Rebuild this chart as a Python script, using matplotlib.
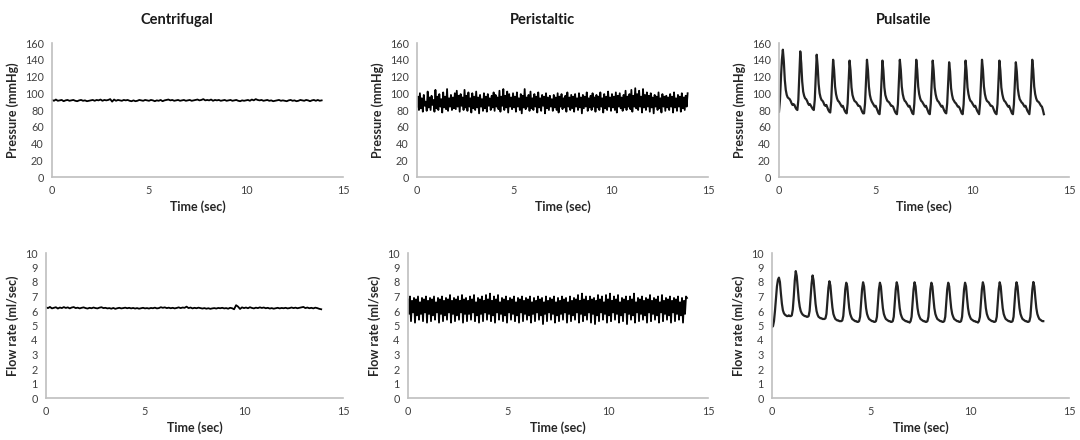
import numpy as np
import matplotlib
matplotlib.use('Agg')
import matplotlib.pyplot as plt

plt.rcParams['font.family'] = ['Lato', 'DejaVu Sans']

# ---------------- data ----------------
pump_names = ['Centrifugal', 'Peristaltic', 'Pulsatile']

# centrifugal pressure, mmHg, every 0.1 s
centrifugal_pressure = [
    92, 91, 92.5, 91, 91.5, 92, 90.5, 91.5, 92, 91,
    91.5, 92, 91, 90.5, 91.5, 92, 91, 91.5, 90.5, 91,
    91.5, 92, 91, 92, 91.5, 92.5, 91, 92, 91.5, 92,
    93, 90, 92.5, 91, 92, 91.5, 91, 92, 91.5, 92,
    91, 90.5, 91.5, 90.5, 91, 92, 91.5, 91, 92, 91.5,
    91, 92, 91.5, 90.5, 91.5, 91, 92, 90.5, 91.5, 92,
    92.5, 91.5, 92, 91, 91.5, 92, 91, 91.5, 92, 91,
    91.5, 92, 91, 91.5, 92, 92.5, 91.5, 92, 93, 91.5,
    92, 91.5, 92.5, 91, 92, 91.5, 92, 91, 91.5, 92,
    91, 91.5, 92, 91, 91.5, 92, 91, 90.5, 91.5, 91,
    91.5, 92, 91, 92.5, 91.5, 93, 92, 91.5, 92, 91,
    91.5, 92, 91, 91.5, 90.5, 91, 91.5, 92, 91, 91.5,
    91, 90.5, 91.5, 92, 91, 91.5, 90.5, 91, 92, 91.5,
    91, 92, 91.5, 90.5, 91.5, 92, 91, 92, 91, 91.5,
]

# centrifugal flow, ml/sec, every 0.1 s
centrifugal_flow = [
    6.25, 6.2, 6.28, 6.18, 6.22, 6.26, 6.17, 6.24, 6.2, 6.27,
    6.21, 6.25, 6.18, 6.24, 6.27, 6.2, 6.23, 6.18, 6.22, 6.25,
    6.2, 6.17, 6.22, 6.19, 6.24, 6.2, 6.18, 6.23, 6.26, 6.2,
    6.22, 6.18, 6.2, 6.16, 6.21, 6.15, 6.19, 6.22, 6.18, 6.2,
    6.23, 6.19, 6.22, 6.18, 6.21, 6.17, 6.2, 6.16, 6.19, 6.22,
    6.18, 6.2, 6.17, 6.21, 6.19, 6.23, 6.18, 6.2, 6.26, 6.22,
    6.25, 6.2, 6.23, 6.19, 6.22, 6.18, 6.21, 6.25, 6.2, 6.24,
    6.22, 6.3, 6.2, 6.24, 6.18, 6.22, 6.19, 6.23, 6.2, 6.17,
    6.2, 6.16, 6.19, 6.15, 6.18, 6.2, 6.17, 6.21, 6.19, 6.22,
    6.18, 6.2, 6.16, 6.22, 6.19, 6.12, 6.4, 6.3, 6.14, 6.25,
    6.2, 6.24, 6.19, 6.26, 6.21, 6.18, 6.23, 6.2, 6.25, 6.21,
    6.24, 6.19, 6.22, 6.17, 6.2, 6.16, 6.19, 6.22, 6.18, 6.21,
    6.19, 6.22, 6.18, 6.2, 6.24, 6.2, 6.23, 6.19, 6.22, 6.25,
    6.28, 6.2, 6.24, 6.19, 6.22, 6.18, 6.23, 6.2, 6.15, 6.12,
]

# peristaltic pressure, mmHg, every 0.05 s
peristaltic_pressure = [
    84, 96, 80, 100, 82, 94, 78, 98, 85, 90, 79, 102, 83, 95, 80, 97, 86, 92, 78, 104,
    82, 96, 80, 99, 84, 93, 77, 101, 83, 96, 81, 105, 79, 94, 84, 98, 80, 95, 82, 100,
    81, 103, 84, 97, 78, 99, 85, 95, 80, 104, 83, 97, 79, 101, 84, 94, 77, 100, 82, 96,
    80, 102, 83, 95, 76, 98, 84, 93, 79, 100, 82, 96, 78, 99, 85, 94, 80, 97, 83, 101,
    79, 98, 84, 95, 81, 103, 78, 96, 85, 105, 80, 97, 83, 102, 77, 99, 84, 95, 81, 100,
    83, 96, 78, 101, 84, 94, 80, 99, 76, 97, 83, 105, 81, 95, 84, 98, 79, 102, 82, 94,
    80, 99, 84, 96, 77, 101, 83, 94, 79, 98, 85, 96, 76, 100, 82, 95, 80, 97, 84, 93,
    79, 98, 83, 95, 80, 100, 77, 96, 84, 99, 81, 94, 83, 97, 78, 101, 84, 95, 80, 98,
    82, 96, 78, 99, 84, 94, 80, 100, 83, 95, 76, 98, 82, 96, 84, 101, 79, 94, 83, 97,
    80, 100, 84, 95, 78, 98, 83, 96, 80, 101, 84, 94, 77, 99, 82, 96, 80, 102, 84, 95,
    79, 99, 83, 96, 80, 101, 77, 97, 84, 100, 82, 95, 79, 98, 83, 103, 80, 96, 84, 99,
    81, 104, 78, 97, 84, 106, 82, 99, 80, 103, 84, 96, 77, 105, 83, 98, 80, 101, 84, 97,
    78, 100, 83, 95, 76, 98, 84, 96, 80, 101, 82, 94, 77, 99, 84, 96, 79, 97, 83, 95,
    80, 99, 84, 96, 77, 101, 83, 94, 79, 98, 84, 96, 78, 100, 82, 95, 80, 97, 84, 100,
]

# peristaltic flow, ml/sec, every 0.05 s
peristaltic_flow = [
    6.8, 5.8, 7.0, 5.3, 6.7, 5.9, 6.9, 5.2, 6.8, 5.7, 7.0, 5.4, 6.6, 5.8, 6.9, 5.3, 6.8, 5.9, 7.0, 5.2,
    6.7, 5.8, 6.9, 5.3, 6.8, 5.7, 7.0, 5.4, 6.6, 5.9, 6.9, 5.2, 6.8, 5.8, 7.0, 5.3, 6.7, 5.7, 6.9, 5.4,
    6.8, 5.9, 7.1, 5.2, 6.7, 5.8, 6.9, 5.3, 6.8, 5.7, 7.0, 5.4, 6.7, 5.9, 7.1, 5.2, 6.8, 5.8, 6.9, 5.3,
    6.7, 5.8, 7.0, 5.4, 6.8, 5.9, 7.1, 5.3, 6.6, 5.7, 6.9, 5.2, 6.8, 5.8, 7.0, 5.3, 6.7, 5.9, 7.1, 5.4,
    6.8, 5.8, 7.2, 5.3, 6.7, 5.7, 7.0, 5.2, 6.8, 5.9, 7.1, 5.4, 6.6, 5.8, 6.9, 5.3, 6.8, 5.7, 7.0, 5.2,
    6.7, 5.9, 6.9, 5.4, 6.8, 5.8, 7.0, 5.3, 6.6, 5.7, 6.9, 5.2, 6.8, 5.9, 7.0, 5.3, 6.7, 5.8, 6.9, 5.4,
    6.8, 5.7, 7.0, 5.2, 6.6, 5.8, 6.9, 5.3, 6.7, 5.9, 7.0, 5.4, 6.8, 5.7, 6.9, 5.1, 6.6, 5.8, 7.0, 5.3,
    6.7, 5.9, 6.9, 5.4, 6.8, 5.8, 7.0, 5.2, 6.6, 5.7, 6.9, 5.3, 6.7, 5.8, 7.0, 5.4, 6.8, 5.9, 6.9, 5.2,
    6.6, 5.8, 7.0, 5.3, 6.7, 5.7, 6.9, 5.4, 6.8, 5.9, 7.1, 5.2, 6.7, 5.8, 7.2, 5.3, 6.8, 5.7, 7.0, 5.4,
    6.7, 5.9, 7.0, 5.2, 6.8, 5.8, 6.9, 5.1, 6.7, 5.7, 7.1, 5.3, 6.8, 5.9, 7.0, 5.4, 6.6, 5.8, 7.1, 5.2,
    6.8, 5.7, 7.2, 5.3, 6.7, 5.9, 7.0, 5.4, 6.8, 5.8, 7.1, 5.2, 6.6, 5.7, 6.9, 5.3, 6.8, 5.9, 7.0, 5.1,
    6.7, 5.8, 7.0, 5.4, 6.8, 5.7, 7.2, 5.2, 6.6, 5.9, 6.9, 5.3, 6.8, 5.8, 7.0, 5.4, 6.7, 5.7, 6.9, 5.2,
    6.8, 5.9, 7.1, 5.3, 6.7, 5.8, 6.9, 5.4, 6.8, 5.7, 7.0, 5.2, 6.6, 5.9, 7.1, 5.3, 6.7, 5.8, 6.9, 5.4,
    6.8, 5.7, 7.0, 5.2, 6.7, 5.9, 6.9, 5.3, 6.8, 5.8, 7.0, 5.4, 6.6, 5.7, 6.9, 5.2, 6.7, 5.8, 7.0, 6.9,
]

# pulsatile pressure, mmHg, every 0.05 s (one row per beat, starting at its peak)
pulsatile_pressure = [
    78, 92, 118, 140,
    152, 138, 116, 104, 98, 95, 94, 93, 91, 88, 86, 87, 86, 83, 81, 80, 92, 122,
    150, 136, 114, 102, 97, 94, 93, 91, 88, 86, 87, 85, 83, 81, 80, 92, 120,
    146, 132, 111, 100, 95, 92, 91, 89, 86, 85, 86, 83, 80, 78, 77, 90, 117,
    140, 128, 108, 99, 94, 91, 90, 88, 86, 84, 85, 82, 79, 77, 76, 88, 114,
    139, 127, 107, 98, 94, 91, 90, 89, 87, 85, 85, 84, 81, 78, 76, 76, 88, 114,
    140, 128, 108, 98, 93, 90, 88, 86, 84, 85, 82, 79, 76, 75, 88, 115,
    139, 127, 107, 98, 94, 91, 90, 89, 87, 85, 85, 84, 81, 78, 76, 75, 87, 114,
    140, 128, 108, 99, 94, 91, 90, 88, 86, 84, 85, 82, 79, 76, 75, 88, 115,
    140, 128, 108, 99, 94, 91, 90, 88, 86, 84, 85, 82, 79, 76, 75, 88, 114,
    139, 127, 107, 99, 94, 91, 90, 88, 86, 84, 85, 82, 79, 77, 76, 88, 113,
    137, 126, 106, 98, 93, 91, 89, 88, 86, 84, 84, 82, 79, 76, 75, 87, 114,
    139, 127, 107, 99, 94, 91, 90, 88, 86, 84, 85, 82, 79, 77, 75, 88, 115,
    140, 128, 108, 99, 94, 91, 90, 89, 87, 85, 85, 84, 81, 78, 76, 75, 87, 114,
    139, 127, 107, 99, 94, 91, 90, 88, 86, 84, 85, 82, 79, 76, 75, 87, 113,
    137, 126, 106, 98, 93, 91, 89, 88, 86, 84, 85, 82, 79, 77, 75, 88, 115,
    140, 128, 108, 99, 94, 91, 90, 89, 87, 85, 84, 80, 75,
]

# pulsatile flow, ml/sec, every 0.05 s (one row per beat, starting at its peak)
pulsatile_flow = [
    4.9, 4.95, 5.3, 6.0, 6.9, 7.7, 8.15,
    8.3, 8.0, 7.2, 6.5, 6.05, 5.85, 5.75, 5.7, 5.65, 5.65, 5.7, 5.65, 5.65, 5.7, 6.1, 7.0, 8.1,
    8.75, 8.4, 7.6, 6.8, 6.3, 6.0, 5.85, 5.75, 5.7, 5.65, 5.65, 5.6, 5.6, 5.65, 6.0, 6.9, 7.9,
    8.45, 8.1, 7.3, 6.5, 6.0, 5.75, 5.6, 5.55, 5.5, 5.5, 5.45, 5.45, 5.45, 5.5, 5.8, 6.7, 7.6,
    8.05, 7.75, 6.95, 6.25, 5.8, 5.6, 5.45, 5.4, 5.35, 5.35, 5.3, 5.3, 5.3, 5.35, 5.65, 6.5, 7.5,
    7.95, 7.7, 6.9, 6.2, 5.8, 5.6, 5.45, 5.4, 5.35, 5.3, 5.3, 5.25, 5.25, 5.3, 5.6, 6.5, 7.5,
    7.98, 7.7, 6.9, 6.2, 5.8, 5.6, 5.45, 5.4, 5.35, 5.3, 5.3, 5.25, 5.25, 5.3, 5.6, 6.5, 7.5,
    7.95, 7.7, 6.9, 6.2, 5.8, 5.6, 5.45, 5.4, 5.35, 5.3, 5.3, 5.25, 5.25, 5.3, 5.6, 6.5, 7.5,
    7.98, 7.7, 6.9, 6.2, 5.8, 5.6, 5.45, 5.4, 5.35, 5.3, 5.3, 5.25, 5.25, 5.2, 5.3, 5.6, 6.5, 7.5,
    7.98, 7.7, 6.9, 6.2, 5.8, 5.6, 5.45, 5.4, 5.35, 5.3, 5.3, 5.25, 5.25, 5.3, 5.6, 6.5, 7.5,
    7.95, 7.7, 6.9, 6.2, 5.8, 5.6, 5.45, 5.4, 5.35, 5.3, 5.3, 5.25, 5.25, 5.3, 5.6, 6.5, 7.5,
    7.95, 7.7, 6.9, 6.2, 5.8, 5.6, 5.45, 5.4, 5.35, 5.3, 5.3, 5.25, 5.25, 5.3, 5.6, 6.5, 7.5,
    7.95, 7.7, 6.9, 6.2, 5.8, 5.6, 5.45, 5.4, 5.35, 5.3, 5.3, 5.25, 5.25, 5.2, 5.3, 5.6, 6.5, 7.5,
    7.98, 7.7, 6.9, 6.2, 5.8, 5.6, 5.45, 5.4, 5.35, 5.3, 5.3, 5.25, 5.25, 5.3, 5.6, 6.5, 7.5,
    7.98, 7.7, 6.9, 6.2, 5.8, 5.6, 5.45, 5.4, 5.35, 5.3, 5.3, 5.25, 5.25, 5.3, 5.6, 6.5, 7.5,
    7.98, 7.7, 6.9, 6.2, 5.8, 5.6, 5.45, 5.4, 5.35, 5.3, 5.3, 5.25, 5.25, 5.3, 5.6, 6.5, 7.5,
    8.0, 7.7, 6.9, 6.2, 5.8, 5.6, 5.45, 5.4, 5.35, 5.3, 5.3,
]

pressure_series = [(centrifugal_pressure, 0.1), (peristaltic_pressure, 0.05), (pulsatile_pressure, 0.05)]
flow_series = [(centrifugal_flow, 0.1), (peristaltic_flow, 0.05), (pulsatile_flow, 0.05)]

# ---------------- layout ----------------
fig = plt.figure(figsize=(10.8, 4.4), dpi=100)
fig.set_facecolor('white')

# axes boxes in pixels (left, right, top, bottom)
top_boxes = [(52, 343, 43, 177), (417, 708, 43, 177), (779, 1069, 43, 177)]
bot_boxes = [(46, 343, 253, 398), (408, 708, 253, 398), (772, 1069, 253, 398)]
W, H = 1080, 440


def make_ax(box):
    l, r, t, b = box
    return fig.add_axes([l / W, 1 - b / H, (r - l) / W, (b - t) / H])


def style(ax):
    for s in ['top', 'right']:
        ax.spines[s].set_visible(False)
    for s in ['left', 'bottom']:
        ax.spines[s].set_color('#bfbfbf')
        ax.spines[s].set_linewidth(1.2)
    ax.tick_params(length=0, labelsize=7.8, colors='#404040', pad=6)
    ax.set_xlim(0, 15)
    ax.set_xticks([0, 5, 10, 15])
    ax.set_xlabel('Time (sec)', fontsize=9, fontweight='bold', color='#262626', labelpad=3)


for i, name in enumerate(pump_names):
    lw = 1.6 if name == 'Pulsatile' else 1.3
    col = '#222222' if name == 'Pulsatile' else '#000000'

    ax = make_ax(top_boxes[i])
    vals, dt = pressure_series[i]
    t = np.arange(len(vals)) * dt
    ax.plot(t, vals, color=col, lw=lw)
    style(ax)
    ax.set_ylim(0, 160)
    ax.set_yticks(range(0, 161, 20))
    ax.set_ylabel('Pressure (mmHg)', fontsize=9, fontweight='bold', color='#262626', labelpad=4)
    ax.set_title(name, fontsize=10.5, fontweight='bold', color='#1a1a1a', x=0.43, pad=14)

    ax2 = make_ax(bot_boxes[i])
    vals, dt = flow_series[i]
    t = np.arange(len(vals)) * dt
    ax2.plot(t, vals, color=col, lw=lw)
    style(ax2)
    ax2.set_ylim(0, 10)
    ax2.set_yticks(range(0, 11))
    ax2.set_ylabel('Flow rate (ml/sec)', fontsize=9, fontweight='bold', color='#262626', labelpad=4)

fig.savefig('out.png', dpi=100, facecolor='white')
